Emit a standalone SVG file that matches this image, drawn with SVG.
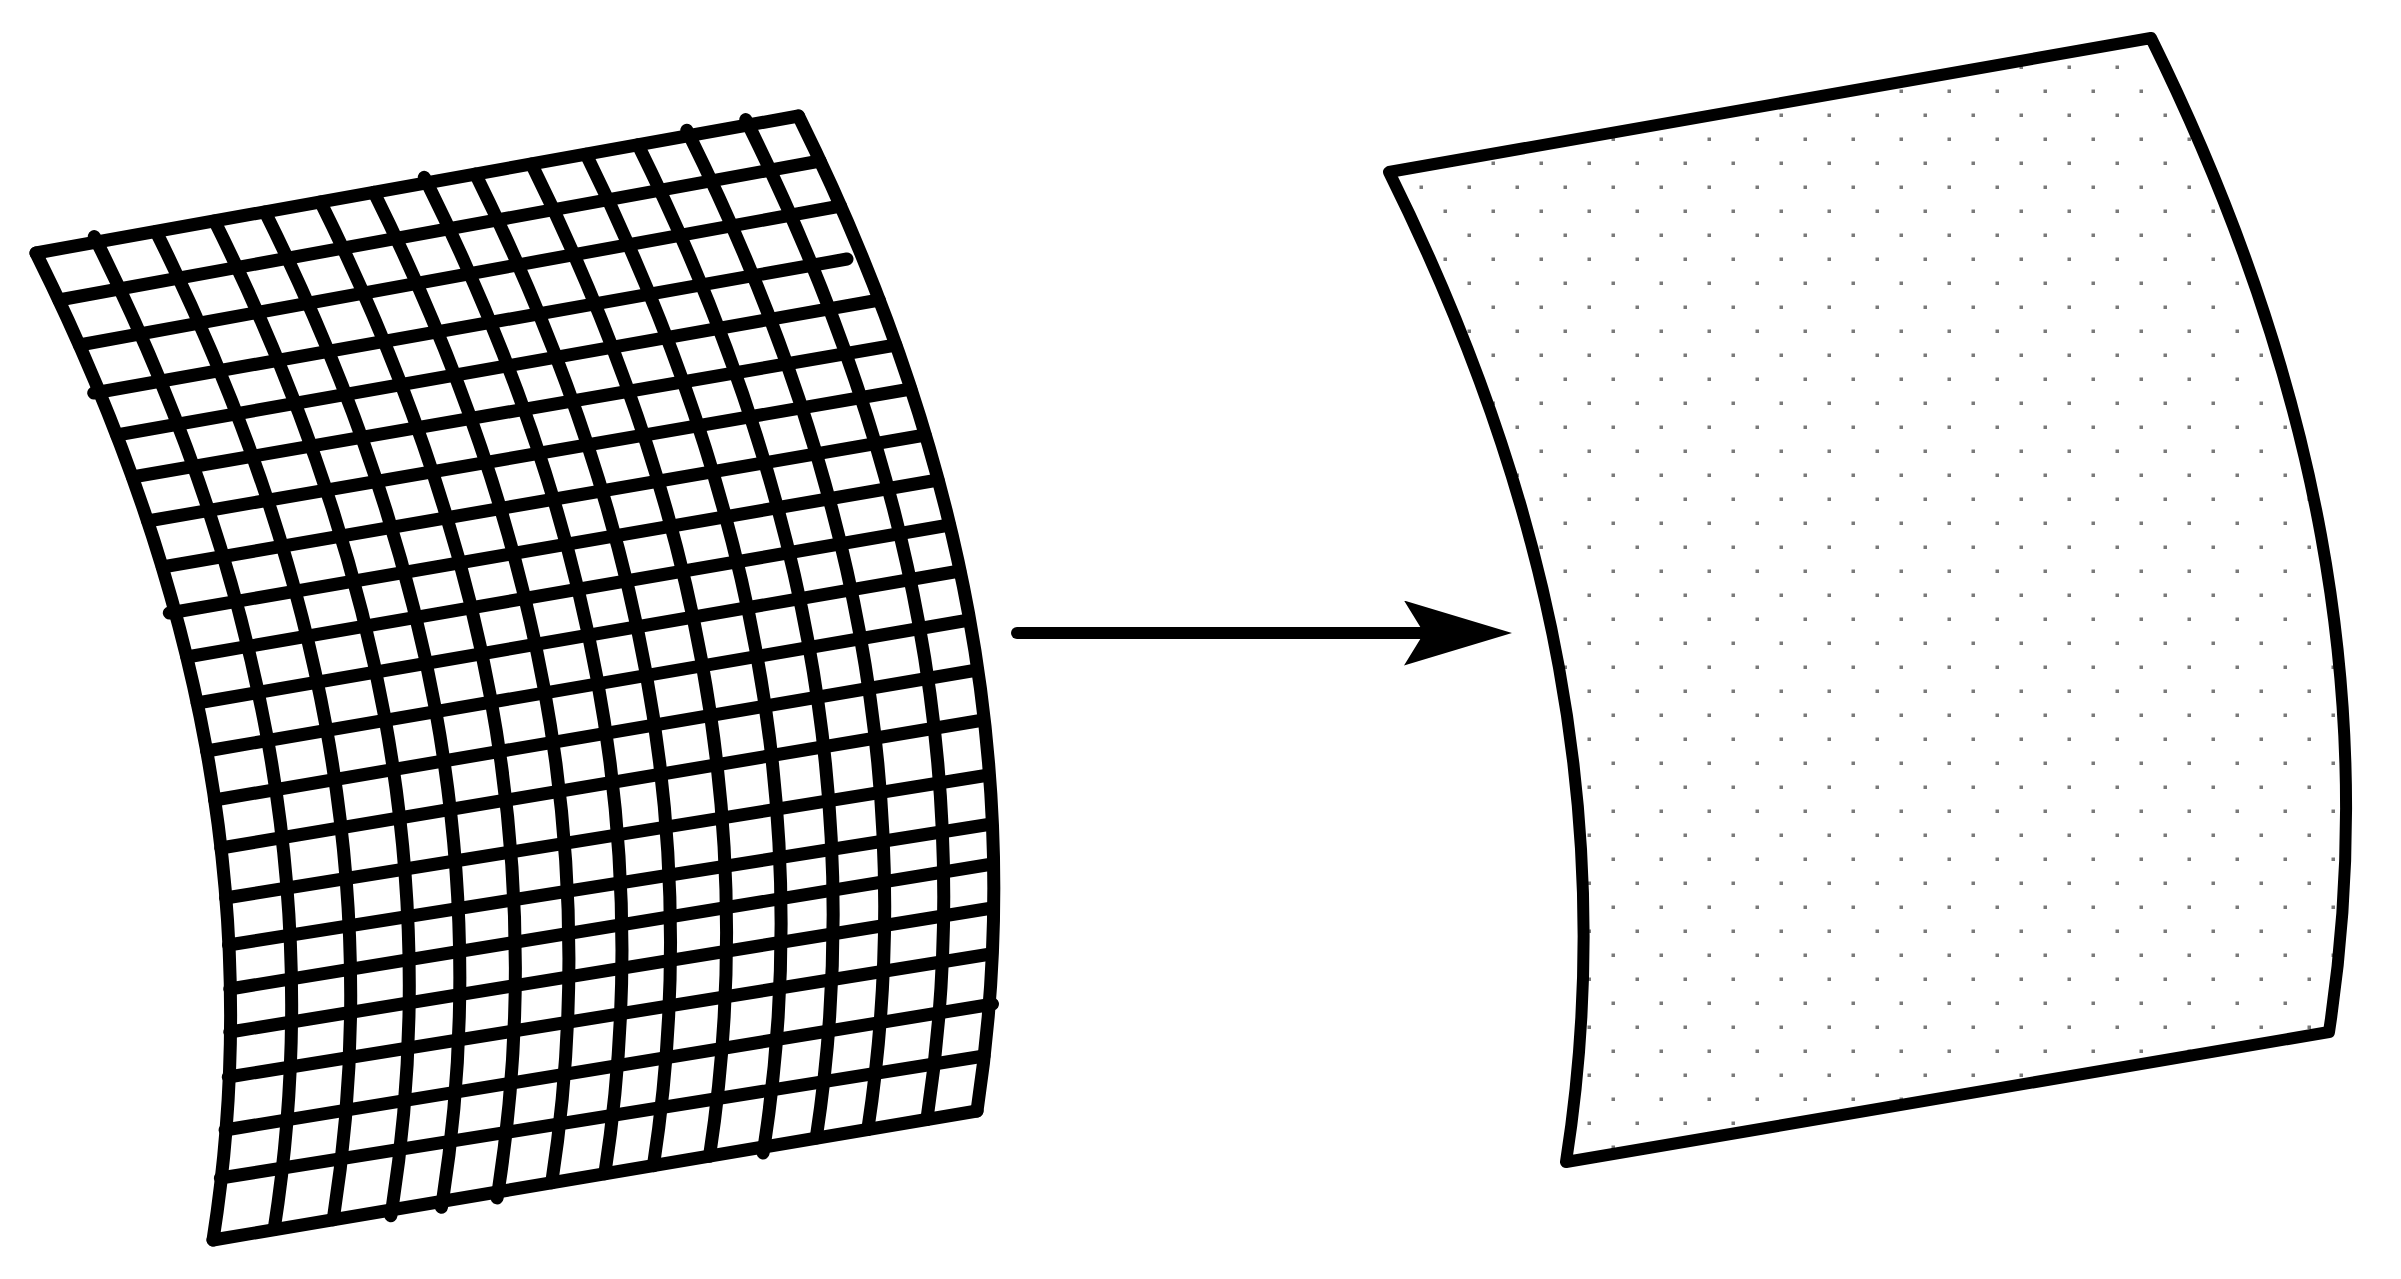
<svg xmlns="http://www.w3.org/2000/svg" width="2401" height="1279" viewBox="0 0 2401 1279">
  <defs>
    <style>
      .ln { fill: none; stroke: #000; stroke-width: 13; stroke-linecap: round; stroke-linejoin: round; }
      .border { stroke: #000; stroke-width: 12; stroke-linejoin: round; stroke-linecap: round; }
      .shaft { stroke: #000; stroke-width: 12; stroke-linecap: round; fill: none; }
    </style>
    <pattern id="dots" patternUnits="userSpaceOnUse" x="1409" y="175" width="48" height="48">
      <rect x="10.5" y="10.5" width="3.5" height="3.5" fill="#7a7a7a"/>
      <rect x="34.5" y="34.5" width="3.5" height="3.5" fill="#7a7a7a"/>
    </pattern>
    <marker id="head" markerUnits="userSpaceOnUse" viewBox="0 0 108 65" markerWidth="108" markerHeight="65" refX="20" refY="32.5" orient="auto">
      <path d="M0,0 L108,32.5 L0,65 L20,32.5 Z" fill="#000"/>
    </marker>
  </defs>
  <rect x="0" y="0" width="2401" height="1279" fill="#fff"/>

  <g id="grid-surface">
    <g id="grid-rows">
      <path class="ln" d="M36,253 L798.5,116"/>
      <path class="ln" d="M58.9,300 L820.1,161"/>
      <path class="ln" d="M79.4,345 L840.6,206"/>
      <path class="ln" d="M93.7,393 L99.6,392 L847,259"/>
      <path class="ln" d="M116.8,435 L879.3,300"/>
      <path class="ln" d="M132.4,477 L895.8,345"/>
      <path class="ln" d="M147.6,521 L910.8,389"/>
      <path class="ln" d="M162.3,567 L925.2,435"/>
      <path class="ln" d="M169.3,613 L175.2,612 L938,480"/>
      <path class="ln" d="M186.8,657 L949.4,525"/>
      <path class="ln" d="M197.2,703 L959.7,571"/>
      <path class="ln" d="M206.6,751 L969.2,620"/>
      <path class="ln" d="M214.6,800 L977.2,670"/>
      <path class="ln" d="M220.8,848 L983.5,720"/>
      <path class="ln" d="M225.6,898 L988.7,775"/>
      <path class="ln" d="M228.5,945 L991.5,824"/>
      <path class="ln" d="M229.8,989 L992.4,864"/>
      <path class="ln" d="M229.8,1032 L992.2,908"/>
      <path class="ln" d="M228.3,1077 L990.6,954"/>
      <path class="ln" d="M225.1,1130 L987.2,1005 L992.5,1004"/>
      <path class="ln" d="M220.4,1178 L984,1056"/>
      <path class="ln" d="M213,1240 L977,1111"/>
    </g>
    <g id="grid-columns">
      <path class="ln" d="M36,253 c165,331 229,656 177,987"/>
      <path class="ln" d="M94.3,236.6 L97,242 c165,331.2 229,656.4 177.1,987.6"/>
      <path class="ln" d="M156,231.5 c165,331.4 229,656.8 177.2,988.3"/>
      <path class="ln" d="M214.5,220.9 c165,331.6 229,657.2 177.4,988.9 l-1,6"/>
      <path class="ln" d="M265,211.9 c165,331.8 229,657.6 177.5,989.4 l-1,6"/>
      <path class="ln" d="M320.5,201.9 c165,332 229,658 177.6,990 l-1,6"/>
      <path class="ln" d="M374,192.3 c165,332.2 229,658.3 177.7,990.5"/>
      <path class="ln" d="M424.3,177.3 L427,182.7 c165,332.4 229,658.7 177.8,991.1"/>
      <path class="ln" d="M475.5,174.1 c165,332.6 229,659.1 177.9,991.6"/>
      <path class="ln" d="M531.5,164 c165,332.8 229,659.4 178,992.2"/>
      <path class="ln" d="M586,154.2 c165,333 229,659.8 178.1,992.8 l-1,6"/>
      <path class="ln" d="M638,144.8 c165,333.1 229,660.2 178.2,993.3"/>
      <path class="ln" d="M686.8,130.2 L689.5,135.6 c165,333.3 229,660.5 178.3,993.9"/>
      <path class="ln" d="M745.8,119.6 L748.5,125 c165,333.5 229,660.9 178.4,994.5"/>
      <path class="ln" d="M798.5,116 c165,333.7 229,661.3 178.5,995"/>
    </g>
  </g>

  <g id="dotted-surface">
    <path class="border" fill="url(#dots)" d="M1389,172 L2151,38 C2316,372 2380,699 2329,1032 L1566,1162 C1618,830 1554,504 1389,172 Z"/>
  </g>

  <g id="connectors">
    <path class="shaft" d="M1017,633 L1424,633" marker-end="url(#head)"/>
  </g>
</svg>
